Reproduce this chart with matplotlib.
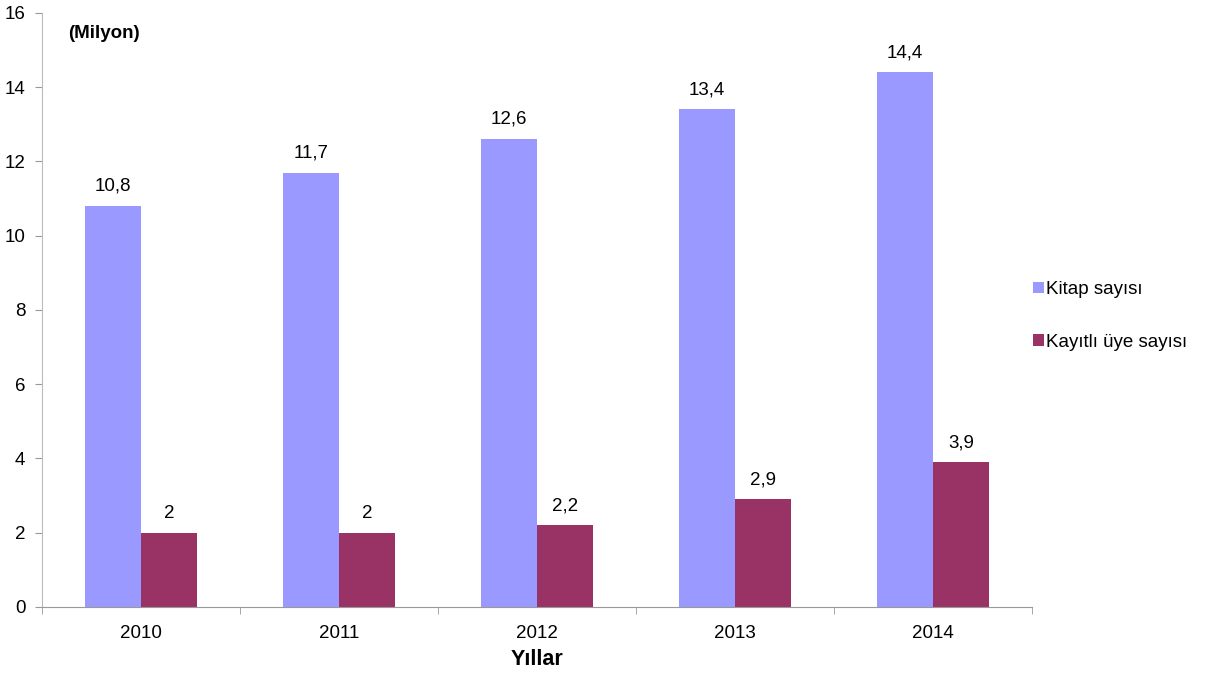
import numpy as np
import matplotlib.pyplot as plt

plt.rcParams['font.family'] = ['Liberation Sans', 'DejaVu Sans']

years = ['2010', '2011', '2012', '2013', '2014']
kitap = [10.8, 11.7, 12.6, 13.4, 14.4]
uye = [2.0, 2.0, 2.2, 2.9, 3.9]
kitap_lbl = ['10,8', '11,7', '12,6', '13,4', '14,4']
uye_lbl = ['2', '2', '2,2', '2,9', '3,9']

fig = plt.figure(figsize=(12.1, 6.77), dpi=100)
ax = fig.add_axes([0.0347, 0.1034, 0.818, 0.8776])

x = np.arange(len(years))
w = 0.283
b1 = ax.bar(x - w/2, kitap, w, color='#9999FF', label='Kitap sayısı')
b2 = ax.bar(x + w/2, uye, w, color='#993366', label='Kayıtlı üye sayısı')

for bars, labs in ((b1, kitap_lbl), (b2, uye_lbl)):
    for r, t in zip(bars, labs):
        ax.text(r.get_x() + r.get_width()/2, r.get_height() + 0.3, t,
                ha='center', va='bottom', fontsize=13.5)

ax.set_xlim(-0.5, len(years) - 0.5)
ax.set_ylim(0, 16)
ax.set_yticks(range(0, 17, 2))
ax.set_xticks(x)
ax.set_xticklabels(years, fontsize=13.5)
ax.set_xticks(np.arange(-0.5, len(years)), minor=True)
ax.tick_params(axis='x', which='major', length=0, pad=13)
ax.tick_params(axis='x', which='minor', length=5, color='#999999', direction='out')
ax.tick_params(axis='y', length=5, color='#999999', labelsize=13.5, pad=7)

for s in ['top', 'right']:
    ax.spines[s].set_visible(False)
ax.spines['left'].set_color('#bbbbbb')
ax.spines['bottom'].set_color('#999999')

ax.text(0.026, 0.965, '(Milyon)', transform=ax.transAxes, fontsize=13.5,
        fontweight='bold', va='center')
ax.set_xlabel('Yıllar', fontsize=15.5, fontweight='bold', labelpad=5)

fig.legend(handles=[b1, b2], loc='upper left', bbox_to_anchor=(0.84, 0.61),
           frameon=False, fontsize=13.5, handlelength=0.55, handleheight=0.55,
           handletextpad=0.15, labelspacing=1.9)

fig.savefig('out.png', dpi=100)
